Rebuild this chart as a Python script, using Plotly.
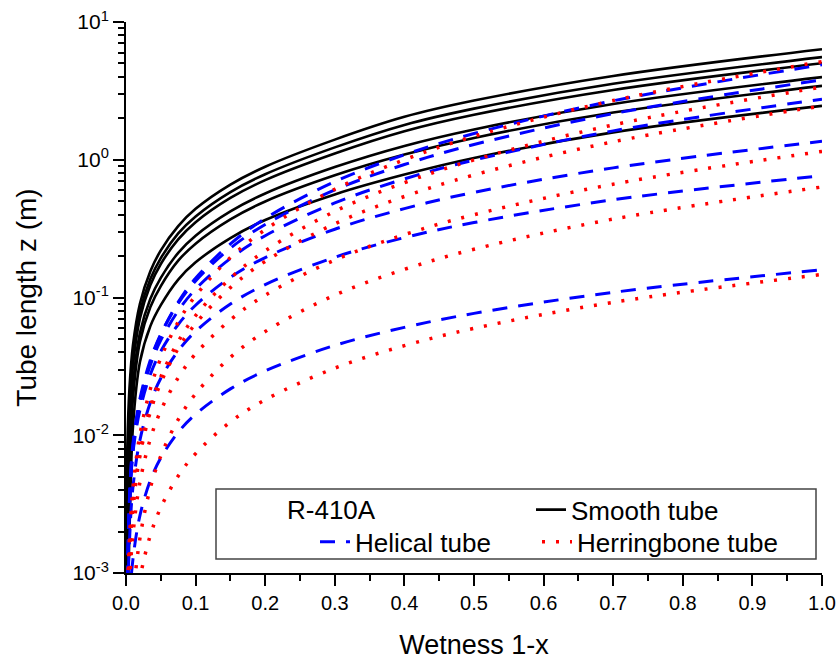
import plotly.graph_objects as go

W = [0.0002, 0.002, 0.005, 0.01, 0.02, 0.035, 0.05, 0.075, 0.1, 0.15, 0.2, 0.3, 0.4, 0.5, 0.7, 1.0]

# Smooth tube (black, solid) - tube length z (m)
smooth = [
    [0.0008, 0.0085, 0.022, 0.045, 0.09, 0.155, 0.22, 0.33, 0.44, 0.66, 0.89, 1.40, 2.05, 2.69, 4.06, 6.35],
    [0.0005, 0.0055, 0.0157, 0.0372, 0.0785, 0.136, 0.193, 0.292, 0.388, 0.583, 0.785, 1.23, 1.79, 2.35, 3.56, 5.56],
    [0.0004, 0.0040, 0.0121, 0.032, 0.0705, 0.123, 0.175, 0.264, 0.352, 0.528, 0.711, 1.11, 1.61, 2.12, 3.21, 5.02],
    [0.0002, 0.0018, 0.0066, 0.0228, 0.0552, 0.098, 0.139, 0.211, 0.281, 0.422, 0.569, 0.885, 1.26, 1.66, 2.54, 3.98],
    [0.00013, 0.0012, 0.0046, 0.0185, 0.0478, 0.0853, 0.121, 0.185, 0.246, 0.369, 0.498, 0.771, 1.09, 1.44, 2.20, 3.44],
    [0.00004, 0.0004, 0.002, 0.0115, 0.034, 0.062, 0.088, 0.135, 0.18, 0.27, 0.365, 0.56, 0.78, 1.03, 1.58, 2.46],
]

# Helical tube (blue, dashed)
helical = [
    [0.0001, 0.0007, 0.003, 0.0077, 0.0171, 0.034, 0.0538, 0.0925, 0.138, 0.245, 0.375, 0.693, 1.087, 1.55, 2.68, 4.89],
    [0.0001, 0.0008, 0.0035, 0.0087, 0.0184, 0.0352, 0.0543, 0.0906, 0.132, 0.228, 0.339, 0.604, 0.923, 1.29, 2.16, 3.80],
    [0.0001, 0.0008, 0.0034, 0.0083, 0.0172, 0.0323, 0.049, 0.080, 0.115, 0.192, 0.281, 0.486, 0.726, 0.995, 1.62, 2.75],
    [0.0001, 0.0007, 0.003, 0.0075, 0.0152, 0.0276, 0.0407, 0.0637, 0.0879, 0.14, 0.195, 0.313, 0.442, 0.58, 0.873, 1.36],
    [0.00005, 0.0005, 0.0017, 0.0042, 0.0092, 0.0173, 0.0259, 0.041, 0.0568, 0.0897, 0.124, 0.196, 0.272, 0.35, 0.512, 0.766],
    [0.00002, 0.00023, 0.00061, 0.00126, 0.00261, 0.0047, 0.00684, 0.0105, 0.0142, 0.0217, 0.0293, 0.0449, 0.0607, 0.0767, 0.109, 0.159],
]

# Herringbone tube (red, dotted)
herringbone = [
    [0.00005, 0.00065, 0.00178, 0.0041, 0.0101, 0.0217, 0.0363, 0.0664, 0.103, 0.195, 0.311, 0.611, 1.0, 1.48, 2.69, 5.16],
    [0.00004, 0.00049, 0.00134, 0.00308, 0.00748, 0.016, 0.0265, 0.0479, 0.0738, 0.138, 0.218, 0.422, 0.682, 0.997, 1.79, 3.37],
    [0.00004, 0.000475, 0.0013, 0.00296, 0.00706, 0.0148, 0.0241, 0.0427, 0.0647, 0.118, 0.183, 0.343, 0.541, 0.776, 1.35, 2.46],
    [0.00002, 0.00029, 0.00083, 0.00191, 0.00455, 0.00942, 0.0151, 0.0262, 0.039, 0.0688, 0.104, 0.187, 0.286, 0.399, 0.665, 1.15],
    [0.000005, 0.000057, 0.000224, 0.000634, 0.00179, 0.00415, 0.00708, 0.013, 0.02, 0.0368, 0.0566, 0.104, 0.16, 0.224, 0.371, 0.634],
    [0.000004, 0.000045, 0.00015, 0.00037, 0.00091, 0.00188, 0.00299, 0.00506, 0.00736, 0.0125, 0.0181, 0.0307, 0.0447, 0.0597, 0.0923, 0.147],
]

x_ticks = [0.0, 0.1, 0.2, 0.3, 0.4, 0.5, 0.6, 0.7, 0.8, 0.9, 1.0]
y_ticks = [1e-3, 1e-2, 1e-1, 1e0, 1e1]
y_ticktext = ["10<sup>-3</sup>", "10<sup>-2</sup>", "10<sup>-1</sup>", "10<sup>0</sup>", "10<sup>1</sup>"]
y_minor = [m * 10.0 ** e for e in range(-3, 1) for m in range(2, 10)]

FONT = "Liberation Sans, Arial, sans-serif"

fig = go.Figure()

families = [
    (smooth, "Smooth tube", dict(color="black", width=2.6, dash="solid"), "legend"),
    (helical, "Helical tube", dict(color="#0000ff", width=3, dash="15px,11px"), "legend2"),
    (herringbone, "Herringbone tube", dict(color="#ff0000", width=3.5, dash="3px,11px"), "legend3"),
]
for data, name, line, leg in families:
    for i, z in enumerate(data):
        fig.add_trace(go.Scatter(
            x=W, y=z, mode="lines", name=name,
            line=dict(shape="spline", smoothing=1.0, **line),
            showlegend=(i == 0), legend=leg, legendgroup=name,
        ))

def px_x(p):
    return (p - 126) / 696

def px_y(p):
    return (573.3 - p) / 551.6

leg_common = dict(orientation="h", xanchor="left", yanchor="middle",
                  bgcolor="rgba(0,0,0,0)", borderwidth=0, font=dict(size=26))

fig.update_layout(
    width=839, height=663,
    margin=dict(l=126, r=17, t=22, b=90),
    paper_bgcolor="white", plot_bgcolor="white",
    font=dict(family=FONT, color="black", size=20),
    xaxis=dict(
        range=[0, 1.0], tickvals=x_ticks, tickformat=".1f", automargin=False,
        showline=True, linecolor="black", linewidth=2,
        ticks="outside", ticklen=11, tickwidth=2, tickcolor="black",
        minor=dict(dtick=0.05, tick0=0, ticks="outside", ticklen=6, tickwidth=2, tickcolor="black"),
        showgrid=False, zeroline=False, mirror=False,
        tickfont=dict(size=20),
        title=dict(text="Wetness 1-x", font=dict(size=27), standoff=22),
    ),
    yaxis=dict(
        type="log", range=[-3, 1], tickvals=y_ticks, ticktext=y_ticktext, automargin=False,
        showline=True, linecolor="black", linewidth=2,
        ticks="outside", ticklen=11, tickwidth=2, tickcolor="black",
        minor=dict(tickvals=y_minor, ticks="outside", ticklen=6, tickwidth=2, tickcolor="black"),
        showgrid=False, zeroline=False, mirror=False,
        tickfont=dict(size=21),
        title=dict(text="Tube length z (m)", font=dict(size=28), standoff=28),
    ),
    legend=dict(x=px_x(531), y=px_y(510), **leg_common),
    legend2=dict(x=px_x(315), y=px_y(542), **leg_common),
    legend3=dict(x=px_x(537), y=px_y(542), **leg_common),
    shapes=[dict(
        type="rect", xref="paper", yref="paper",
        x0=px_x(216), x1=px_x(816), y0=px_y(559.3), y1=px_y(489.3),
        line=dict(color="#444", width=1.5), fillcolor="rgba(0,0,0,0)", layer="above",
    )],
    annotations=[dict(
        text="R-410A", xref="paper", yref="paper",
        x=px_x(285), y=px_y(510),
        xanchor="left", yanchor="middle", showarrow=False, font=dict(size=26),
    )],
)

fig.write_html("out.html")
